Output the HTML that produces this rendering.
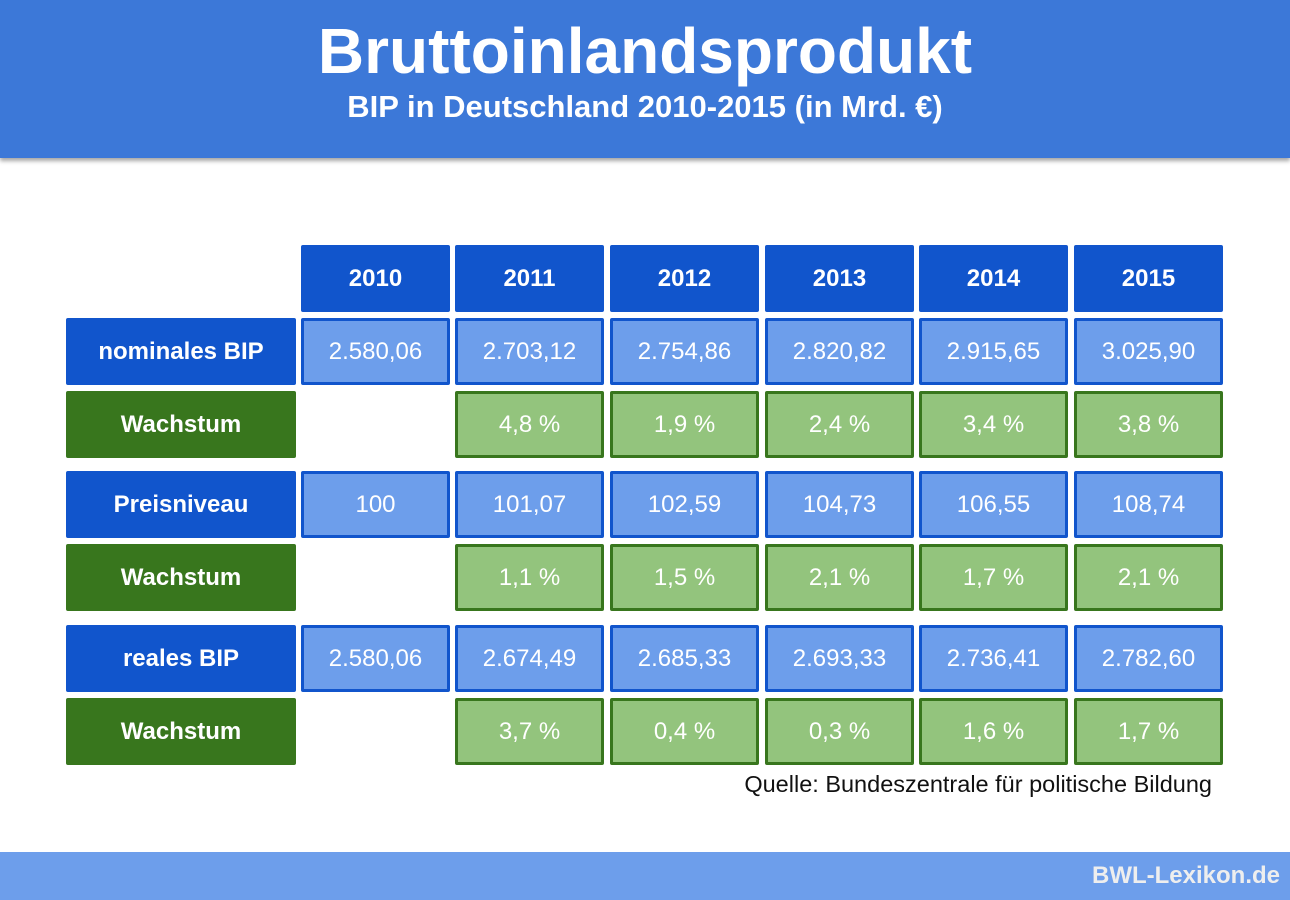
<!DOCTYPE html>
<html><head><meta charset="utf-8"><style>
body{margin:0;width:1290px;height:900px;position:relative;background:#fff;font-family:"Liberation Sans",Arial,sans-serif;overflow:hidden}
.hd{position:absolute;left:0;top:0;width:1290px;height:158px;background:#3c78d8;box-shadow:0 3px 4px rgba(0,0,0,.35)}
.t1{position:absolute;top:14px;width:100%;text-align:center;color:#fff;font-weight:bold;font-size:64px;line-height:74px}
.t2{position:absolute;top:88px;width:100%;text-align:center;color:#fff;font-weight:bold;font-size:31px;line-height:38px}
.c{position:absolute;box-sizing:border-box;display:flex;align-items:center;justify-content:center;height:67px;font-size:24px;color:#fff;border-radius:2px}
.y{background:#1155cc;font-weight:bold;width:149px}
.l{background:#1155cc;font-weight:bold;width:230px;left:66px}
.g{background:#38761d;font-weight:bold;width:230px;left:66px}
.b{background:#6d9eeb;border:3px solid #1155cc;width:149px}
.v{background:#93c47d;border:3px solid #38761d;width:149px}
.src{position:absolute;right:78px;top:771px;font-size:23.5px;color:#111}
.ft{position:absolute;left:0;top:852px;width:1290px;height:48px;background:#6d9eeb}
.ft span{position:absolute;right:10px;top:10px;color:#eee;font-weight:bold;font-size:24px}
</style></head><body>
<div class="hd"><div class="t1">Bruttoinlandsprodukt</div><div class="t2">BIP in Deutschland 2010-2015 (in Mrd. €)</div></div>

<div class="c y" style="left:301px;top:245px">2010</div>
<div class="c y" style="left:455px;top:245px">2011</div>
<div class="c y" style="left:610px;top:245px">2012</div>
<div class="c y" style="left:765px;top:245px">2013</div>
<div class="c y" style="left:919px;top:245px">2014</div>
<div class="c y" style="left:1074px;top:245px">2015</div>

<div class="c l" style="top:318px">nominales BIP</div>
<div class="c b" style="left:301px;top:318px">2.580,06</div>
<div class="c b" style="left:455px;top:318px">2.703,12</div>
<div class="c b" style="left:610px;top:318px">2.754,86</div>
<div class="c b" style="left:765px;top:318px">2.820,82</div>
<div class="c b" style="left:919px;top:318px">2.915,65</div>
<div class="c b" style="left:1074px;top:318px">3.025,90</div>

<div class="c g" style="top:391px">Wachstum</div>
<div class="c v" style="left:455px;top:391px">4,8 %</div>
<div class="c v" style="left:610px;top:391px">1,9 %</div>
<div class="c v" style="left:765px;top:391px">2,4 %</div>
<div class="c v" style="left:919px;top:391px">3,4 %</div>
<div class="c v" style="left:1074px;top:391px">3,8 %</div>

<div class="c l" style="top:471px">Preisniveau</div>
<div class="c b" style="left:301px;top:471px">100</div>
<div class="c b" style="left:455px;top:471px">101,07</div>
<div class="c b" style="left:610px;top:471px">102,59</div>
<div class="c b" style="left:765px;top:471px">104,73</div>
<div class="c b" style="left:919px;top:471px">106,55</div>
<div class="c b" style="left:1074px;top:471px">108,74</div>

<div class="c g" style="top:544px">Wachstum</div>
<div class="c v" style="left:455px;top:544px">1,1 %</div>
<div class="c v" style="left:610px;top:544px">1,5 %</div>
<div class="c v" style="left:765px;top:544px">2,1 %</div>
<div class="c v" style="left:919px;top:544px">1,7 %</div>
<div class="c v" style="left:1074px;top:544px">2,1 %</div>

<div class="c l" style="top:625px">reales BIP</div>
<div class="c b" style="left:301px;top:625px">2.580,06</div>
<div class="c b" style="left:455px;top:625px">2.674,49</div>
<div class="c b" style="left:610px;top:625px">2.685,33</div>
<div class="c b" style="left:765px;top:625px">2.693,33</div>
<div class="c b" style="left:919px;top:625px">2.736,41</div>
<div class="c b" style="left:1074px;top:625px">2.782,60</div>

<div class="c g" style="top:698px">Wachstum</div>
<div class="c v" style="left:455px;top:698px">3,7 %</div>
<div class="c v" style="left:610px;top:698px">0,4 %</div>
<div class="c v" style="left:765px;top:698px">0,3 %</div>
<div class="c v" style="left:919px;top:698px">1,6 %</div>
<div class="c v" style="left:1074px;top:698px">1,7 %</div>

<div class="src">Quelle: Bundeszentrale für politische Bildung</div>
<div class="ft"><span>BWL-Lexikon.de</span></div>
</body></html>
